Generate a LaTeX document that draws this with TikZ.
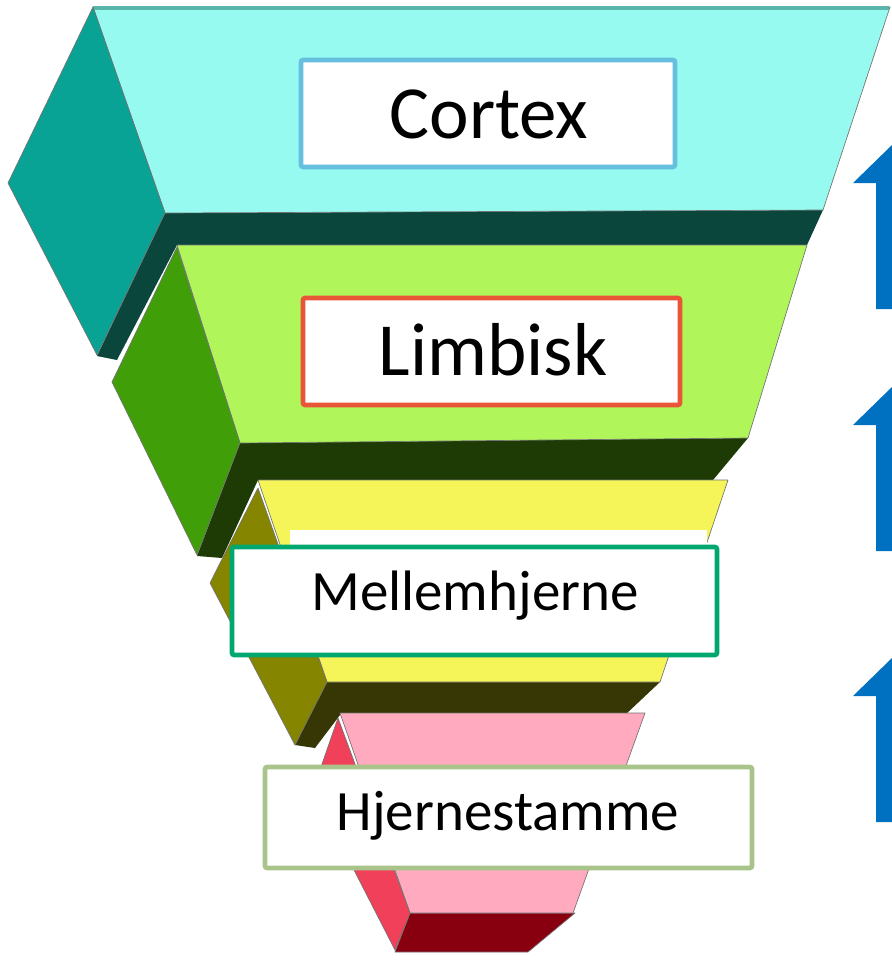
\documentclass[tikz,border=0pt]{standalone}
\usepackage{fontspec}
\setmainfont{Carlito}
\definecolor{cyanface}{RGB}{150,250,240}
\definecolor{cyanrim}{RGB}{90,180,170}
\definecolor{tealside}{RGB}{8,163,148}
\definecolor{tealdark}{RGB}{10,70,60}
\definecolor{lgreen}{RGB}{176,246,90}
\definecolor{gside}{RGB}{64,158,8}
\definecolor{gdark}{RGB}{30,58,5}
\definecolor{yface}{RGB}{245,245,90}
\definecolor{oside}{RGB}{133,133,0}
\definecolor{odark}{RGB}{55,55,5}
\definecolor{pface}{RGB}{255,170,190}
\definecolor{rside}{RGB}{240,64,90}
\definecolor{rdark}{RGB}{136,0,16}
\definecolor{arrblue}{RGB}{0,112,192}
\definecolor{bcortex}{RGB}{100,192,222}
\definecolor{blimb}{RGB}{232,85,55}
\definecolor{bmell}{RGB}{0,168,112}
\definecolor{bhjer}{RGB}{168,196,138}
\begin{document}
\begin{tikzpicture}[x=0.75pt,y=-0.75pt,
  face/.style={draw=black!55, line width=0.5pt, line join=round},
  under/.style={line join=round},
  lblbox/.style={fill=white, line width=3.4pt, rounded corners=1.5pt, inner sep=0pt},
  bigtxt/.style={inner sep=0pt, anchor=base, font=\fontsize{56.25}{60}\selectfont},
  smalltxt/.style={inner sep=0pt, anchor=base, font=\fontsize{42.75}{46}\selectfont},
  arrowshape/.style={fill=arrblue}]
\useasboundingbox (0,0) rectangle (892,961);
\fill[white] (0,0) rectangle (892,961);
\clip (0,0) rectangle (892,961);

% ---- layer 1 : Cortex
\fill[under,tealdark] (165,213) -- (823,210) -- (807,245) -- (177,245) -- (117,360) -- (97,356) -- cycle;
\filldraw[face,fill=cyanface] (93,7) -- (890,7) -- (823,210) -- (165,213) -- cycle;
\draw[cyanrim,line width=2.5pt] (93,8) -- (889,8);
\filldraw[face,fill=tealside] (93,7) -- (165,213) -- (97,355) -- (8,183) -- cycle;

% ---- layer 2 : Limbisk
\fill[under,gdark] (240,443) -- (748,438) -- (713,480) -- (258,480) -- (222,558) -- (197,556) -- cycle;
\filldraw[face,fill=lgreen] (177,245) -- (807,245) -- (748,438) -- (240,443) -- cycle;
\filldraw[face,fill=gside] (177,247) -- (240,443) -- (197,555) -- (112,382) -- cycle;

% ---- layer 3 : Mellemhjerne
\fill[under,odark] (327,682) -- (660,682) -- (625,715) -- (340,715) -- (315,748) -- (295,745) -- cycle;
\filldraw[face,fill=yface] (258,480) -- (728,480) -- (660,682) -- (327,682) -- cycle;
\filldraw[face,fill=oside] (258,488) -- (327,682) -- (295,745) -- (210,583) -- cycle;
\fill[white] (290,530) rectangle (707,560);

% ---- layer 4 : Hjernestamme
\filldraw[face,fill=rdark] (410,913) -- (575,913) -- (528,952) -- (395,952) -- cycle;
\filldraw[face,fill=pface] (340,713) -- (645,713) -- (573,913) -- (410,913) -- cycle;
\filldraw[face,fill=rside] (338,718) -- (410,913) -- (395,950) -- (313,790) -- cycle;

% ---- label boxes
\node (cortexbox) [lblbox, draw=bcortex, minimum width=280.5pt, minimum height=80.25pt] at (488,113.5) {};
\node (limbbox) [lblbox, draw=blimb, minimum width=282.75pt, minimum height=80.25pt] at (491.5,351.5) {};
\node (mellbox) [lblbox, draw=bmell, minimum width=363.75pt, minimum height=81pt] at (474.5,601) {};
\node (hjerbox) [lblbox, draw=bhjer, minimum width=365.25pt, minimum height=75.75pt] at (508.5,817.5) {};

\node (cortextxt) [bigtxt] at (489,138) {Cortex};
\node (limbtxt) [bigtxt] at (493,375) {Limbisk};
\node (melltxt) [smalltxt] at (475,610) {Mellemhjerne};
\node (hjertxt) [smalltxt] at (508,830) {Hjernestamme};

% ---- blue arrows (cut by the right edge)
\foreach \t in {145,387,658}{
  \fill[arrowshape] (892,\t) -- (931,{\t+38}) -- (908,{\t+38}) -- (908,{\t+164})
     -- (876,{\t+164}) -- (876,{\t+38}) -- (853,{\t+38}) -- cycle;
}
\end{tikzpicture}
\end{document}
